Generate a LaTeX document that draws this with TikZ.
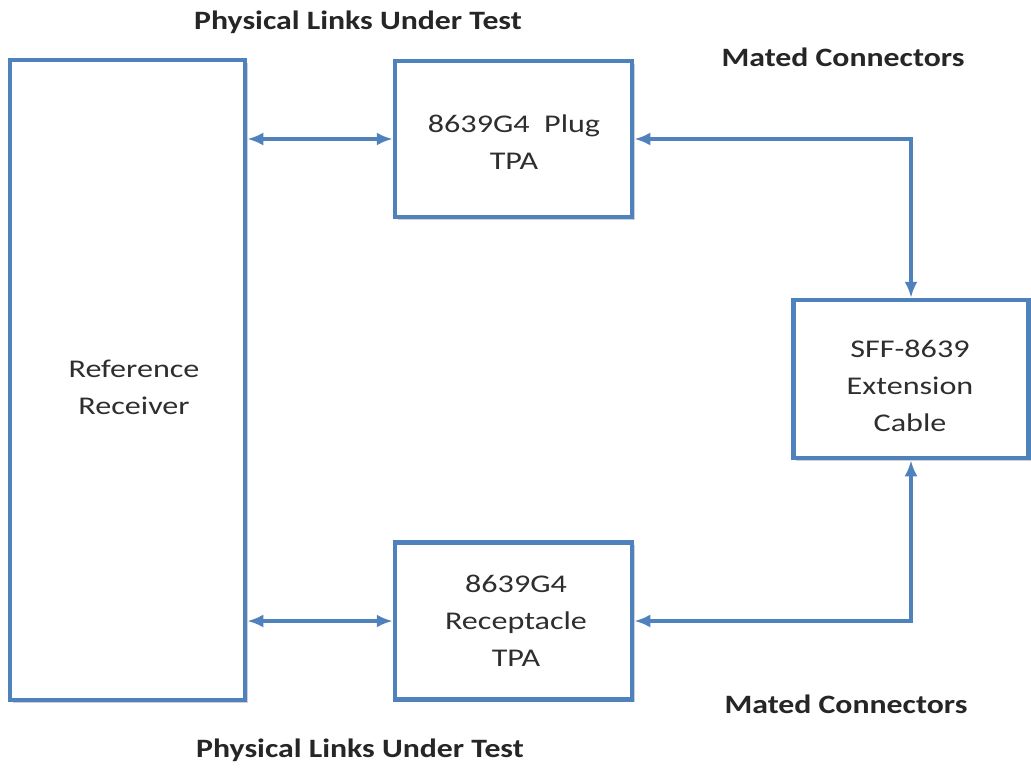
\documentclass[tikz,border=0pt]{standalone}
\usepackage{fontspec}
\setmainfont{Carlito}
\usetikzlibrary{arrows.meta,shadows}
\definecolor{boxblue}{RGB}{79,129,189}
\begin{document}
\begin{tikzpicture}[x=1pt,y=-1pt,
  blockbox/.style={draw=boxblue,line width=4.5pt,fill=white,inner sep=0pt,
    drop shadow={shadow xshift=2.5pt,shadow yshift=-2.5pt,opacity=0.3,fill=black!60}},
  boxtext/.style={font=\fontsize{25.5}{37}\selectfont,align=center,xscale=1.26,text=black!82},
  toplabel/.style={font=\bfseries\fontsize{26.5}{30}\selectfont,xscale=1.2,text=black!85},
  link/.style={draw=boxblue,line width=3.5pt,{Latex[length=16pt,width=13pt]}-{Latex[length=16pt,width=13pt]}}]
\useasboundingbox[fill=white] (0,0) rectangle (1031,772);
% boxes
\node[blockbox,minimum width=235pt,minimum height=640pt] (rr) at (127.5,380) {};
\node[blockbox,minimum width=237pt,minimum height=156pt] (plug) at (513.5,139) {};
\node[blockbox,minimum width=237pt,minimum height=157pt] (rec) at (513.5,621) {};
\node[blockbox,minimum width=235pt,minimum height=158pt] (sff) at (911,379) {};
% texts
\node[boxtext] (rrt) at (134,387) {Reference\\Receiver};
\node[boxtext] (plugt) at (514,142) {8639G4\ \ Plug\\TPA};
\node[boxtext] (rect) at (516,621) {8639G4\\Receptacle\\TPA};
\node[boxtext] (sfft) at (910,386) {SFF-8639\\Extension\\Cable};
% labels
\node[toplabel] (l1) at (358,22) {Physical Links Under Test};
\node[toplabel] (l2) at (843,57) {Mated Connectors};
\node[toplabel] (l3) at (846,704) {Mated Connectors};
\node[toplabel] (l4) at (360,750) {Physical Links Under Test};
% connectors
\draw[link] (rr.east |- plug.west) -- (plug.west);
\draw[link] (rr.east |- rec.west) -- (rec.west);
\draw[link] (plug.east) -| (sff.north);
\draw[link] (rec.east) -| (sff.south);
\end{tikzpicture}
\end{document}
